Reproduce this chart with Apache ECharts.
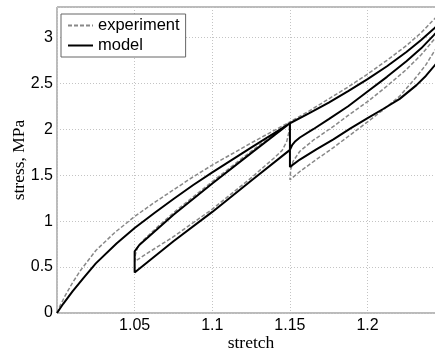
<!DOCTYPE html>
<html>
<head>
<meta charset="utf-8">
<script src="https://cdn.jsdelivr.net/npm/echarts@6/dist/echarts.min.js"></script>
<style>
  html, body { margin: 0; padding: 0; background: #fff; }
  #curve { width: 435px; height: 353px; }
</style>
</head>
<body>
<div id="curve"></div>
<script>
// experiment: load to 1.15, unload to 1.05, reload, load on past 1.24, unload to 1.15, reload
const expStretch = [
  1.0, 1.002, 1.005, 1.01, 1.015, 1.025, 1.0375, 1.05, 1.0625, 1.075, 1.0875, 1.1, 1.125, 1.15,
  1.1495, 1.148, 1.145, 1.14, 1.125, 1.1, 1.075, 1.06, 1.05,
  1.0505, 1.052, 1.056, 1.065, 1.075, 1.1, 1.125, 1.15,
  1.1625, 1.175, 1.1875, 1.2, 1.2125, 1.225, 1.2345, 1.243, 1.25,
  1.25, 1.243, 1.2375, 1.2315, 1.2207, 1.21, 1.2, 1.189, 1.178, 1.167, 1.1564, 1.15,
  1.1505, 1.152, 1.1564, 1.165, 1.178, 1.1875, 1.2, 1.2125, 1.225, 1.2345, 1.243, 1.25
]
const expStress = [
  0, 0.08, 0.18, 0.33, 0.46, 0.68, 0.88, 1.05, 1.20, 1.34, 1.48, 1.61, 1.85, 2.08,
  1.98, 1.87, 1.77, 1.69, 1.47, 1.13, 0.83, 0.67, 0.56,
  0.64, 0.72, 0.80, 0.94, 1.09, 1.43, 1.76, 2.08,
  2.20, 2.33, 2.46, 2.60, 2.75, 2.91, 3.05, 3.20, 3.33,
  3.0, 2.85, 2.70, 2.57, 2.36, 2.21, 2.08, 1.94, 1.80, 1.67, 1.54, 1.45,
  1.56, 1.65, 1.76, 1.88, 2.03, 2.15, 2.30, 2.47, 2.65, 2.81, 2.98, 3.11
]

// model: same path, with the jumps at the turning points
const modelStretch = [
  1.0, 1.004, 1.01, 1.017, 1.025, 1.0385, 1.05, 1.0625, 1.075, 1.0875, 1.1, 1.125, 1.15,
  1.15, 1.125, 1.1, 1.075, 1.05,
  1.05, 1.053, 1.059, 1.065, 1.075, 1.1, 1.125, 1.15,
  1.1625, 1.175, 1.1875, 1.2, 1.2125, 1.225, 1.2345, 1.243, 1.25,
  1.25, 1.243, 1.2375, 1.2315, 1.2207, 1.21, 1.2, 1.189, 1.178, 1.167, 1.1564, 1.15,
  1.15, 1.1515, 1.1535, 1.1564, 1.165, 1.175, 1.1875, 1.2, 1.2125, 1.225, 1.2345, 1.243, 1.25
]
const modelStress = [
  0, 0.10, 0.235, 0.38, 0.54, 0.76, 0.925, 1.085, 1.24, 1.39, 1.53, 1.80, 2.065,
  1.775, 1.44, 1.10, 0.78, 0.44,
  0.67, 0.74, 0.83, 0.92, 1.07, 1.41, 1.74, 2.065,
  2.175, 2.29, 2.415, 2.545, 2.685, 2.84, 2.97, 3.10, 3.21,
  2.82, 2.69, 2.58, 2.48, 2.33, 2.22, 2.12, 2.01, 1.89, 1.78, 1.67, 1.59,
  1.775, 1.83, 1.87, 1.91, 2.0, 2.11, 2.25, 2.41, 2.57, 2.74, 2.88, 3.03, 3.15
]

const seriesNames = ['experiment', 'model']

const pair = (xs, ys) => xs.map((x, i) => [x, ys[i]])

const chart = echarts.init(document.getElementById('curve'))

const sans = 'Liberation Sans, Arial, sans-serif'
const serif = 'Liberation Serif, Times New Roman, serif'

const option = {
  animation: false,
  grid: {
    left: 57,
    right: -2,
    top: 7,
    bottom: 40,
    outerBoundsMode: 'none',
    containLabel: false,
    show: true,
    borderColor: '#777',
    borderWidth: 1
  },
  legend: {
    orient: 'vertical',
    left: 61,
    top: 14,
    data: seriesNames,
    itemWidth: 25,
    itemHeight: 12,
    itemGap: 3,
    padding: [3, 6, 3, 6],
    backgroundColor: '#fff',
    borderColor: '#666',
    borderWidth: 1,
    // only the line sample, no marker
    itemStyle: { color: 'rgba(0,0,0,0)', borderWidth: 0, opacity: 0 },
    textStyle: { fontFamily: sans, fontSize: 16.5, color: '#000' }
  },
  xAxis: {
    type: 'value',
    min: 1.0,
    max: 1.2447,
    interval: 0.05,
    name: 'stretch',
    nameLocation: 'middle',
    nameGap: 21,
    nameMoveOverlap: false,
    nameTextStyle: { fontFamily: serif, fontSize: 17.5, color: '#000', padding: [0, 0, 0, 8] },
    axisLine: { show: false },
    axisTick: { show: false },
    axisLabel: {
      showMinLabel: false,
      showMaxLabel: false,
      margin: 5,
      fontFamily: sans,
      fontSize: 16,
      color: '#000'
    },
    splitLine: { lineStyle: { color: '#c4c4c4', type: [1, 2] } }
  },
  yAxis: {
    type: 'value',
    min: 0,
    max: 3.33,
    interval: 0.5,
    name: 'stress, MPa',
    nameLocation: 'middle',
    nameGap: 29,
    nameMoveOverlap: false,
    nameTextStyle: { fontFamily: serif, fontSize: 17.5, color: '#000' },
    axisLine: { show: false },
    axisTick: { show: false },
    axisLabel: {
      showMaxLabel: false,
      margin: 4,
      fontFamily: sans,
      fontSize: 16,
      color: '#000'
    },
    splitLine: { lineStyle: { color: '#c4c4c4', type: [1, 2] } }
  },
  series: [
    {
      name: seriesNames[0],
      type: 'line',
      symbol: 'none',
      data: pair(expStretch, expStress),
      lineStyle: { color: '#888', width: 1.5, type: [4, 2] },
      itemStyle: { color: '#888' },
      z: 2
    },
    {
      name: seriesNames[1],
      type: 'line',
      symbol: 'none',
      data: pair(modelStretch, modelStress),
      lineStyle: { color: '#000', width: 2 },
      itemStyle: { color: '#000' },
      z: 3
    }
  ]
}

chart.setOption(option)
</script>
</body>
</html>
